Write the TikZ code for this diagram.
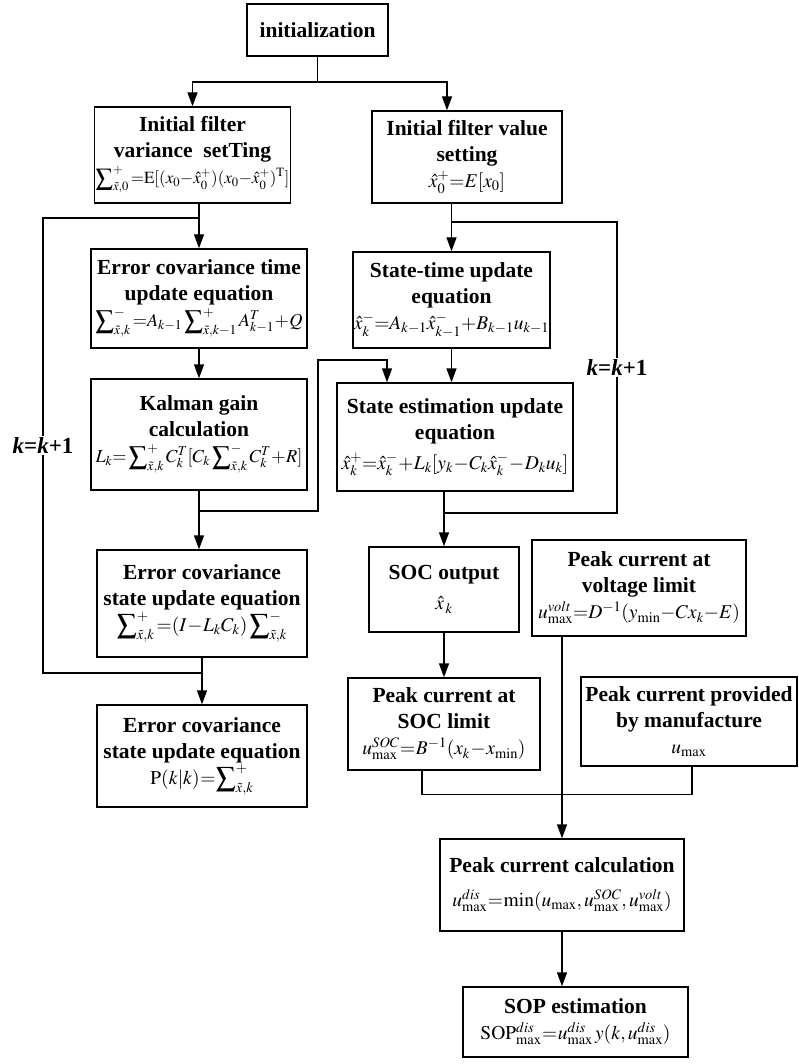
\documentclass[tikz,border=0pt]{standalone}
\usepackage{mathptmx}
\usepackage{fontspec}
\setmainfont{Liberation Serif}
\usetikzlibrary{arrows.meta,calc}
\newcommand{\covsum}[2]{\displaystyle\sum\nolimits^{#1}_{#2}}
\newcommand{\boxeq}[2][19.5]{{\mdseries\fontsize{#1}{24}\selectfont
  \medmuskip=0.5mu\thickmuskip=0.5mu$#2$}}

\begin{document}
\begin{tikzpicture}[x=1pt,y=-1pt,
    box/.style={draw,line width=1.4pt,align=center,inner sep=1pt,
      font=\fontsize{21.5}{26}\selectfont\bfseries},
    ln/.style={line width=1.4pt},
    arr/.style={ln,-{Triangle[length=14pt,width=10pt]}},
    klabel/.style={fill=white,inner sep=2pt,font=\fontsize{23}{26}\selectfont\bfseries}]
  \useasboundingbox (0,0) rectangle (798,1064);
  % left column
  \node[box,minimum width=141,minimum height=52](init)at(317.5,30){initialization};
  \node[box,minimum width=191,minimum height=96](varset)at(192.5,155){Initial filter\\variance\ \ setTing\\
    \boxeq[17]{\covsum{+}{\tilde{x},0}{=}\mathrm{E}[(x_0{-}\hat{x}_0^+)(x_0{-}\hat{x}_0^+)^{\mathrm{T}}]}};
  \node[box,minimum width=216,minimum height=99](ectime)at(199,298.5){Error covariance time\\update equation\\
    \boxeq[18.3]{\covsum{-}{\tilde{x},k}{=}A_{k-1}\covsum{+}{\tilde{x},k-1}A_{k-1}^T+Q}};
  \node[box,minimum width=216,minimum height=111](kalman)at(199,434.5){Kalman gain\\calculation\\
    \boxeq[18.3]{L_k{=}\covsum{+}{\tilde{x},k}C_k^T[C_k\covsum{-}{\tilde{x},k}C_k^T+R]}};
  \node[box,minimum width=210,minimum height=107](ecstate)at(202,603.5){Error covariance\\state update equation\\
    \boxeq{\covsum{+}{\tilde{x},k}{=}(I-L_kC_k)\covsum{-}{\tilde{x},k}}};
  \node[box,minimum width=210,minimum height=102](ecfinal)at(202,756){Error covariance\\state update equation\\
    \boxeq{\mathrm{P}(k|k)=\covsum{+}{\tilde{x},k}}};
  % right column
  \node[box,minimum width=190,minimum height=92](valset)at(467,157){Initial filter value\\setting\\
    \boxeq{\hat{x}_0^+{=}E[x_0]}};
  \node[box,minimum width=183,minimum height=96](sttime)at(451.5,300){State-time update\\equation\\
    \boxeq{\hat{x}_k^-{=}A_{k-1}\hat{x}_{k-1}^-{+}B_{k-1}u_{k-1}}};
  \node[box,minimum width=236,minimum height=108](stest)at(455,437){State estimation update\\equation\\[4pt]
    \boxeq{\hat{x}_k^+{=}\hat{x}_k^-+L_k[y_k-C_k\hat{x}_k^--D_ku_k]}};
  \node[box,minimum width=150,minimum height=85](socout)at(444,589.5){SOC output\\[4pt]\boxeq{\hat{x}_{\,k}}};
  \node[box,minimum width=214,minimum height=96](voltlim)at(639,588){Peak current at\\voltage limit\\
    \boxeq{u_{\max}^{volt}{=}D^{-1}(y_{\min}{-}Cx_k{-}E)}};
  \node[box,minimum width=192,minimum height=92](soclim)at(444,724){Peak current at\\SOC limit\\
    \boxeq{u_{\max}^{SOC}=B^{-1}(x_k-x_{\min})}};
  \node[box,minimum width=216,minimum height=89](manuf)at(689,721.5){Peak current provided\\by manufacture\\
    \boxeq{u_{\max}}};
  \node[box,minimum width=244,minimum height=92](peakcalc)at(562,885){Peak current calculation\\[8pt]
    \boxeq{u_{\max}^{dis}=\min(u_{\max},u_{\max}^{SOC},u_{\max}^{volt})}};
  \node[box,minimum width=225,minimum height=70](sop)at(575.5,1022){SOP estimation\\
    \boxeq{\mathrm{SOP}_{\max}^{dis}=u_{\max}^{dis}\,y(k,u_{\max}^{dis})}};
  % turning points
  \coordinate(split)at(317.5,82);
  \coordinate(looptl)at(43,218);
  \coordinate(loopbl)at(43,673);
  \coordinate(kturn)at(318,360);
  \coordinate(looptr)at(617,222);
  \coordinate(loopbr)at(617,513);
  % connectors
  \draw[ln](init.south)--(split);
  \draw[arr](split)-|(varset.north);
  \draw[arr](split)-|([xshift=-20pt]valset.north);
  \draw[arr](varset.south-|ectime.north)--(ectime.north);
  \draw[arr](ectime.south)--(kalman.north);
  \draw[arr](kalman.south)--(kalman.south|-ecstate.north);
  \draw[arr](kalman.south|-0,511)-|(kturn)-|([xshift=-68pt]stest.north);
  \draw[arr](ecstate.south)--(ecstate.south|-ecfinal.north);
  \draw[ln](ecstate.south|-loopbl)--(loopbl)--node[klabel]{\textit{k}=\textit{k}+1}(looptl)--(ectime.north|-looptl);
  \draw[arr](sttime.north|-valset.south)--(sttime.north);
  \draw[arr](sttime.south)--(sttime.south|-stest.north);
  \draw[ln](sttime.north|-looptr)--(looptr)--node[klabel]{\textit{k}=\textit{k}+1}(loopbr)--(socout.north|-loopbr);
  \draw[arr](socout.north|-stest.south)--(socout.north);
  \draw[arr](socout.south)--(soclim.north);
  \draw[arr](peakcalc.north|-voltlim.south)--(peakcalc.north);
  \draw[ln]([xshift=-22pt]soclim.south)--++(0,24)-|([xshift=3pt]manuf.south);
  \draw[arr](peakcalc.south)--(peakcalc.south|-sop.north);
\end{tikzpicture}
\end{document}
